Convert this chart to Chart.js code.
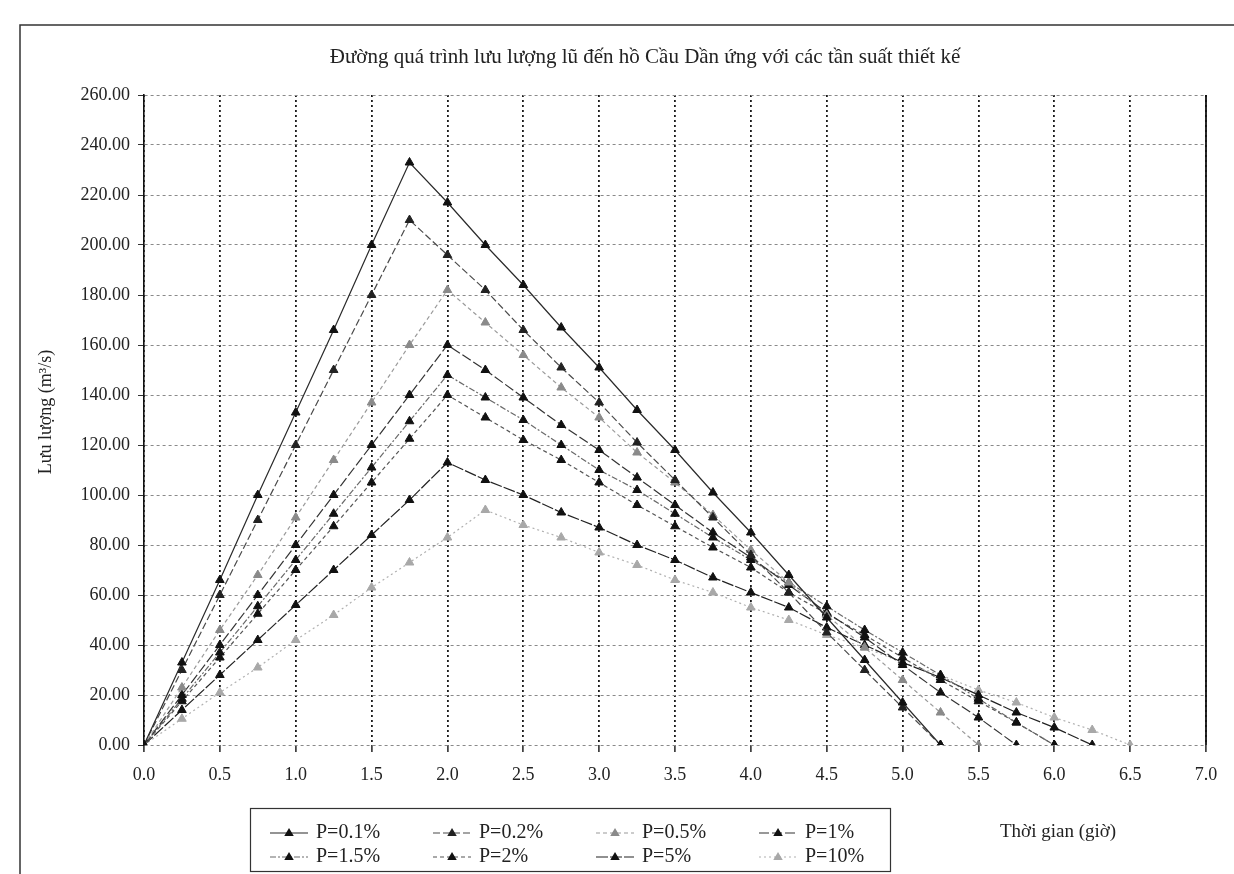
<!DOCTYPE html>
<html><head><meta charset="utf-8">
<script src="https://cdn.jsdelivr.net/npm/chart.js@4.4.0/dist/chart.umd.min.js"></script>
<style>html,body{margin:0;padding:0;background:#fff;}#wrap{position:relative;width:1234px;height:874px;}</style>
</head><body><div id="wrap"><canvas id="c" width="1234" height="874"></canvas></div>
<script>
// ---- data ----
const times = [0,0.25,0.5,0.75,1,1.25,1.5,1.75,2,2.25,2.5,2.75,3,3.25,3.5,3.75,4,4.25,4.5,4.75,5,5.25,5.5,5.75,6,6.25,6.5];
const seriesNames = ['P=0.1%','P=0.2%','P=0.5%','P=1%','P=1.5%','P=2%','P=5%','P=10%'];
const p01  = [0,33,66,100,133,166,200,233,217,200,184,167,151,134,118,101,85,68,51,34,17,0];
const p02  = [0,30,60,90,120,150,180,210,196,182,166,151,137,121,106,91,76,61,45,30,15,0];
const p05  = [0,23,46,68,91,114,137,160,182,169,156,143,131,117,105,92,78,65,52,39,26,13,0];
const p1   = [0,20,40,60,80,100,120,140,160,150,139,128,118,107,96,85,75,64,53,43,32,21,11,0];
const p15  = [0,18.5,37,55.5,74,92.5,111,129.5,148,139,130,120,110,102,92.5,83,74,65,55.5,46,37,28,18.5,9,0];
const p2   = [0,17.5,35,52.5,70,87.5,105,122.5,140,131,122,114,105,96,87.5,79,71,61,52.5,44,35,26,17.5,9,0];
const p5   = [0,14,28,42,56,70,84,98,113,106,100,93,87,80,74,67,61,55,47,40,33,27,20,13,7,0];
const p10  = [0,10.5,21,31,42,52,63,73,83,94,88,83,77,72,66,61,55,50,44,39,33,28,22,17,11,6,0];
const allSeries = [p01,p02,p05,p1,p15,p2,p5,p10];
const xMin = 0, xMax = 7, xStep = 0.5;
const yMin = 0, yMax = 260, yStep = 20;
const titleText = 'Đường quá trình lưu lượng lũ đến hồ Cầu Dần ứng với các tần suất thiết kế';
const yTitle = 'Lưu lượng (m³/s)';
const xTitle = 'Thời gian (giờ)';

// ---- styles ----
const styles = [
  {line:'#2a2a2a', dash:[],          point:'#111'},
  {line:'#4a4a4a', dash:[7,3],       point:'#222'},
  {line:'#9a9a9a', dash:[4,3],       point:'#8a8a8a'},
  {line:'#333333', dash:[10,3],      point:'#111'},
  {line:'#6a6a6a', dash:[6,2,2,2],   point:'#111'},
  {line:'#555555', dash:[4,3],       point:'#111'},
  {line:'#222222', dash:[12,2],      point:'#111'},
  {line:'#b0b0b0', dash:[2,3],       point:'#a8a8a8'}
];
const FONT = '"Liberation Serif", "DejaVu Serif", serif';

const datasets = allSeries.map((vals,i)=>({
  label: seriesNames[i],
  data: vals.map((v,j)=>({x:times[j], y:v})),
  borderColor: styles[i].line,
  borderDash: styles[i].dash,
  borderWidth: 1.2,
  pointStyle: 'triangle',
  pointRadius: 5,
  pointBackgroundColor: styles[i].point,
  pointBorderColor: styles[i].point,
  pointBorderWidth: 1,
  tension: 0,
  fill: false
}));

function tri(ctx, x, y, r, color){
  ctx.save();
  ctx.setLineDash([]);
  ctx.fillStyle = color;
  ctx.beginPath();
  ctx.moveTo(x, y - r);
  ctx.lineTo(x + r*0.95, y + r*0.6);
  ctx.lineTo(x - r*0.95, y + r*0.6);
  ctx.closePath();
  ctx.fill();
  ctx.restore();
}

const deco = {
  id: 'deco',
  afterDraw(chart){
    const ctx = chart.ctx, a = chart.chartArea;
    ctx.save();
    // right border of plot
    ctx.setLineDash([]);
    ctx.strokeStyle = '#111'; ctx.lineWidth = 1.8;
    ctx.beginPath(); ctx.moveTo(a.right, a.top); ctx.lineTo(a.right, a.bottom); ctx.stroke();
    // outer frame
    ctx.strokeStyle = '#333'; ctx.lineWidth = 1.5;
    ctx.beginPath(); ctx.moveTo(20, 874); ctx.lineTo(20, 25); ctx.lineTo(1234, 25); ctx.stroke();
    // title
    ctx.fillStyle = '#222';
    ctx.font = '21px ' + FONT;
    ctx.textAlign = 'center'; ctx.textBaseline = 'middle';
    ctx.fillText(titleText, 645, 57);
    // y title
    ctx.save();
    ctx.translate(46, 412); ctx.rotate(-Math.PI/2);
    ctx.font = '18px ' + FONT;
    ctx.fillText(yTitle, 0, 0);
    ctx.restore();
    // x title
    ctx.font = '19px ' + FONT;
    ctx.textAlign = 'left';
    ctx.fillText(xTitle, 1000, 832);
    // legend box
    ctx.strokeStyle = '#333'; ctx.lineWidth = 1.2;
    ctx.strokeRect(250.5, 808.5, 640, 63);
    const cols = [270, 433, 596, 759], rows = [833, 857];
    chart.data.datasets.forEach((ds, i)=>{
      const cx = cols[i % 4], cy = rows[Math.floor(i / 4)];
      ctx.save();
      ctx.strokeStyle = ds.borderColor; ctx.lineWidth = 1.2;
      ctx.setLineDash(ds.borderDash);
      ctx.beginPath(); ctx.moveTo(cx, cy); ctx.lineTo(cx + 38, cy); ctx.stroke();
      ctx.restore();
      tri(ctx, cx + 19, cy, 5, ds.pointBackgroundColor);
      ctx.fillStyle = '#222';
      ctx.font = '20px ' + FONT;
      ctx.textAlign = 'left'; ctx.textBaseline = 'middle';
      ctx.fillText(ds.label, cx + 46, cy);
    });
    ctx.restore();
  }
};

new Chart(document.getElementById('c'), {
  type: 'line',
  data: { datasets },
  options: {
    responsive: false, animation: false, devicePixelRatio: 1,
    layout: { padding: { left: 0, top: 95, right: 28, bottom: 0 } },
    plugins: { legend: {display:false}, title: {display:false}, tooltip: {enabled:false} },
    scales: {
      x: {
        type: 'linear', min: xMin, max: xMax,
        ticks: { stepSize: xStep, callback: v => Number(v).toFixed(1), font: {family: FONT, size: 18}, color: '#222', padding: 12, maxRotation: 0 },
        grid: { color: '#1a1a1a', lineWidth: 1.8, tickColor: '#222', tickLength: 7, tickWidth: 1.5 },
        border: { display: false, dash: [2,3] },
        afterFit: s => { s.height = 129; }
      },
      y: {
        min: yMin, max: yMax,
        ticks: { stepSize: yStep, callback: v => Number(v).toFixed(2), font: {family: FONT, size: 18}, color: '#222', padding: 8 },
        grid: { color: '#8a8a8a', lineWidth: 1, tickColor: '#333', tickLength: 6, tickWidth: 1 },
        border: { display: true, color: '#111', width: 1.6, dash: [3,3] },
        afterFit: s => { s.width = 144; }
      }
    }
  },
  plugins: [deco]
});
</script></body></html>
